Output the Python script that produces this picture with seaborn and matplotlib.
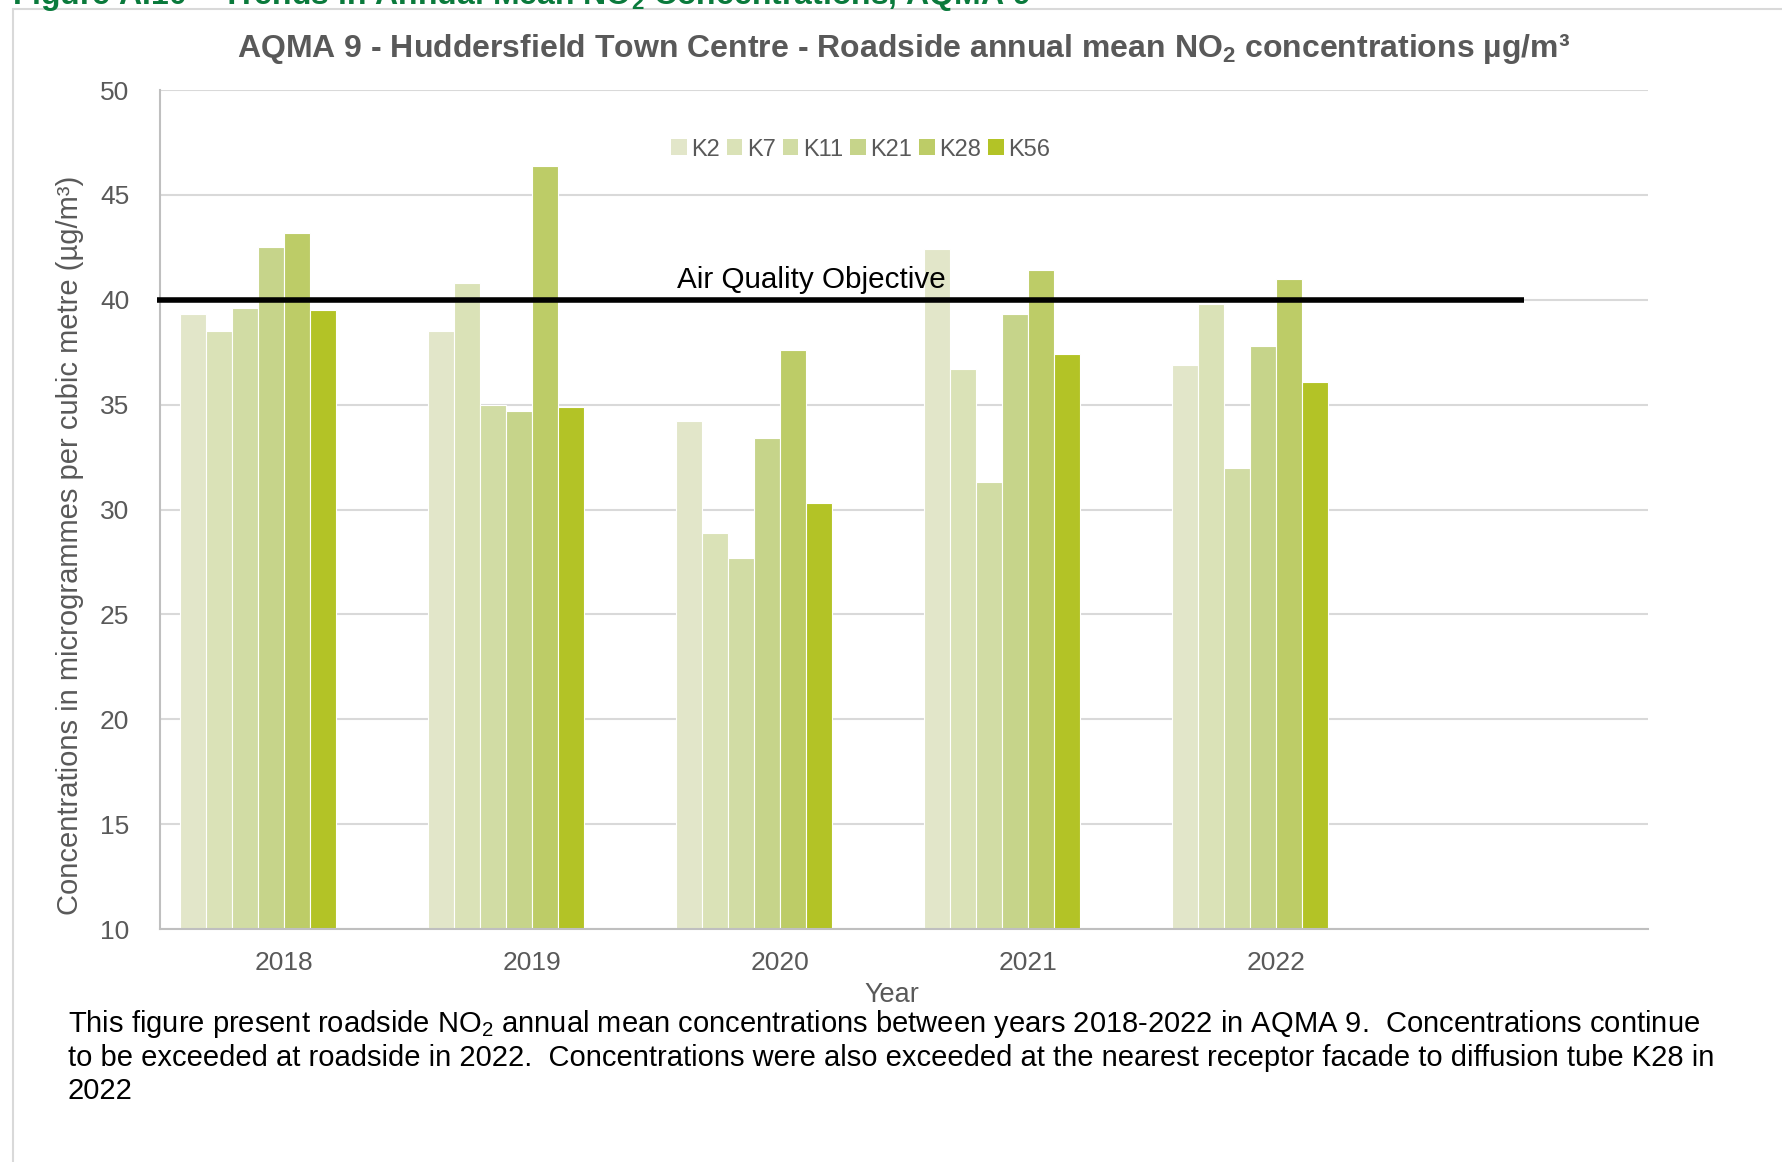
"""Roadside annual mean NO2 concentrations for AQMA 9 (Huddersfield Town Centre)."""

import matplotlib.pyplot as plt
import pandas as pd
import seaborn as sns
from matplotlib.lines import Line2D
from matplotlib.patches import Patch

years = ["2018", "2019", "2020", "2021", "2022"]
sites = ["K2", "K7", "K11", "K21", "K28", "K56"]

k2 = [39.3, 38.5, 34.2, 42.4, 36.9]
k7 = [38.5, 40.8, 28.9, 36.7, 39.8]
k11 = [39.6, 35.0, 27.7, 31.3, 32.0]
k21 = [42.5, 34.7, 33.4, 39.3, 37.8]
k28 = [43.2, 46.4, 37.6, 41.4, 41.0]
k56 = [39.5, 34.9, 30.3, 37.4, 36.1]

objective = 40
y_ticks = [10, 15, 20, 25, 30, 35, 40, 45, 50]

site_colors = ["#E2E6C9", "#DAE2B7", "#D1DCA4", "#C6D48A", "#BDCC67", "#B3C326"]
grey_text = "#595959"

sns.set_theme(style="whitegrid")
plt.rcParams["font.family"] = ["Liberation Sans", "DejaVu Sans"]
plt.rcParams["mathtext.fontset"] = "custom"
plt.rcParams["mathtext.rm"] = "Liberation Sans"
plt.rcParams["mathtext.it"] = "Liberation Sans:italic"
plt.rcParams["mathtext.bf"] = "Liberation Sans:bold"

series = [k2, k7, k11, k21, k28, k56]
rows = [
    {"year": year, "site": site, "value": value}
    for site, values in zip(sites, series)
    for year, value in zip(years, values)
]
df = pd.DataFrame(rows)

# the original chart reserves two empty series slots in every year group
hue_order = sites + ["_blank1", "_blank2"]
palette = dict(zip(hue_order, site_colors + ["white", "white"]))

fig = plt.figure(figsize=(17.83, 11.62), dpi=100)
ax = fig.add_axes([0.0897, 0.2005, 0.8346, 0.722])

sns.barplot(
    data=df,
    x="year",
    y="value",
    hue="site",
    order=years,
    hue_order=hue_order,
    palette=palette,
    width=0.84,
    gap=0,
    errorbar=None,
    edgecolor="white",
    linewidth=0.8,
    legend=False,
    saturation=1,
    ax=ax,
)

ax.hlines(objective, -0.512, 5.0, color="black", lw=4, clip_on=False, zorder=5)
ax.text(1.586, objective + 0.55, "Air Quality Objective", fontsize=21.3,
        color="black", ha="left", va="baseline")

ax.set_xlim(-0.5, 5.5)
ax.set_ylim(y_ticks[0], y_ticks[-1])
ax.set_yticks(y_ticks)
ax.set_xticks(range(len(years)))
ax.set_xticklabels(years)
ax.tick_params(axis="both", length=0, labelsize=19, colors=grey_text)
ax.tick_params(axis="x", pad=16)
ax.tick_params(axis="y", pad=22)
ax.grid(axis="y", color="#D9D9D9", lw=1.5)
ax.grid(axis="x", visible=False)
for side in ["top", "right"]:
    ax.spines[side].set_visible(False)
for side in ["left", "bottom"]:
    ax.spines[side].set_color("#BFBFBF")
    ax.spines[side].set_linewidth(1.5)

ax.set_xlabel("Year", fontsize=19.5, color=grey_text)
ax.xaxis.set_label_coords(0.4916, -0.063)
ax.set_ylabel("Concentrations in microgrammes per cubic metre (µg/m³)",
              fontsize=21, color=grey_text)
ax.yaxis.set_label_coords(-0.051, 0.457)

ax.set_title(r"AQMA 9 - Huddersfield Town Centre - Roadside annual mean NO$_\mathbf{2}$ concentrations µg/m³",
             fontsize=23, fontweight="bold", color=grey_text, pad=24)

handles = [Patch(facecolor=c, edgecolor="none", label=s) for s, c in zip(sites, site_colors)]
ax.legend(handles=handles, loc="center", bbox_to_anchor=(0.471, 0.929), ncol=6,
          frameon=False, fontsize=17, labelcolor=grey_text, handlelength=0.65,
          handleheight=0.65, handletextpad=0.2, columnspacing=0.3)

# report page furniture around the chart
fig.text(0.007, 1 - 4 / 1162, r"Figure A.10 – Trends in Annual Mean NO$_\mathbf{2}$ Concentrations, AQMA 9",
         fontsize=23, fontweight="bold", color="#0A7A3C", ha="left", va="baseline")
fig.add_artist(Line2D([13 / 1783, 1], [1 - 9 / 1162] * 2, color="#D9D9D9", lw=1.5))
fig.add_artist(Line2D([13 / 1783] * 2, [0, 1 - 9 / 1162], color="#D9D9D9", lw=1.5))

caption = (
    "This figure present roadside NO$_2$ annual mean concentrations between years 2018-2022 in AQMA 9.  "
    "Concentrations continue\n"
    "to be exceeded at roadside in 2022.  Concentrations were also exceeded at the nearest receptor "
    "facade to diffusion tube K28 in\n"
    "2022"
)
fig.text(68 / 1783, 1 - 1008 / 1162, caption, fontsize=21, color="black",
         ha="left", va="top", linespacing=1.2)

fig.savefig("out.png", dpi=100)
